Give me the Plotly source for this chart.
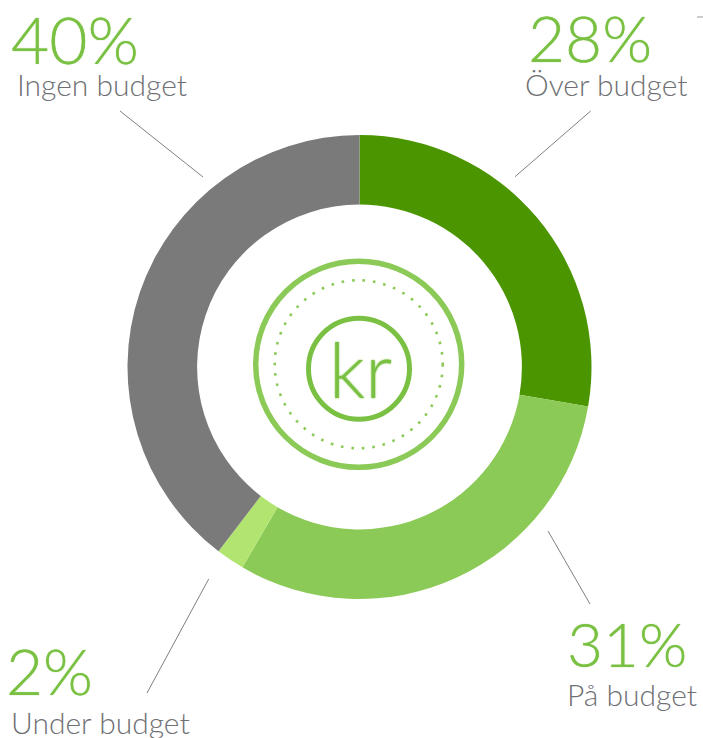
import plotly.graph_objects as go

categories = ["Över budget", "På budget", "Under budget", "Ingen budget"]
values = [28, 31, 2, 40]
colors = ["#4b9500", "#8bca57", "#b2e570", "#7a7a7a"]
W, H = 703, 738
FONT = "Lato"
GREEN = "#7ac143"
GREY = "#6f7073"

cx, cy, R = 359.5, 367, 232
fig = go.Figure()
fig.add_trace(go.Pie(
    labels=categories, values=values, hole=0.7, sort=False, direction="clockwise",
    rotation=0, textinfo="none", marker=dict(colors=colors, line=dict(width=0)),
    domain=dict(x=[(cx - R) / W, (cx + R) / W], y=[1 - (cy + R) / H, 1 - (cy - R) / H]),
    showlegend=False, hoverinfo="label+value",
))

def circle(x, y, r, color, width, dash="solid"):
    return dict(type="circle", xref="x", yref="y", x0=x - r, x1=x + r, y0=y - r, y1=y + r,
                line=dict(color=color, width=width, dash=dash), layer="above")

def seg(x0, y0, x1, y1, color="#808080", width=1):
    return dict(type="line", xref="x", yref="y", x0=x0, y0=y0, x1=x1, y1=y1,
                line=dict(color=color, width=width))

shapes = [
    circle(358.7, 364.3, 103, "#8bca57", 5.5),
    circle(358.7, 364.3, 84, "#8bca57", 2.6, "2.6px,7.9px"),
    circle(359, 368.7, 50.5, GREEN, 5),
    seg(120, 111, 203, 177), seg(590.7, 111, 515, 176.7),
    seg(548, 531, 590, 604), seg(208.7, 579, 147, 693),
    seg(697, 17, 703, 17, "#999999", 1),
]

def text(x, y, s, size, color, anchor="left", shadow="none"):
    return dict(x=x, y=y, xref="x", yref="y", text=s, showarrow=False, xanchor=anchor, yanchor="middle",
                font=dict(family=FONT, size=size, color=color, weight=300, shadow=shadow))

BOLDEN = "0 0 1px #7ac143"
anns = [
    text(9, 38, "40%", 66, GREEN, shadow=BOLDEN), text(526, 37, "28%", 64, GREEN, shadow=BOLDEN),
    text(565, 643, "31%", 62, GREEN, shadow=BOLDEN), text(4, 670, "2%", 64, GREEN, shadow=BOLDEN),
    text(15, 84, "Ingen budget", 30, GREY), text(523, 84, "Över budget", 30, GREY),
    text(565, 694, "På budget", 30, GREY), text(9, 722, "Under budget", 30, GREY),
    text(360, 368, "kr", 76, GREEN, "center", shadow="0 0 2px #7ac143"),
]

fig.update_layout(
    width=W, height=H, margin=dict(l=0, r=0, t=0, b=0), paper_bgcolor="white", plot_bgcolor="rgba(0,0,0,0)",
    xaxis=dict(range=[0, W], visible=False, fixedrange=True),
    yaxis=dict(range=[H, 0], visible=False, fixedrange=True),
    shapes=shapes, annotations=anns,
)
fig.write_html("out.html", config=dict(displayModeBar=False),
               post_script="document.body.style.margin='0';document.body.style.overflow='hidden';")
